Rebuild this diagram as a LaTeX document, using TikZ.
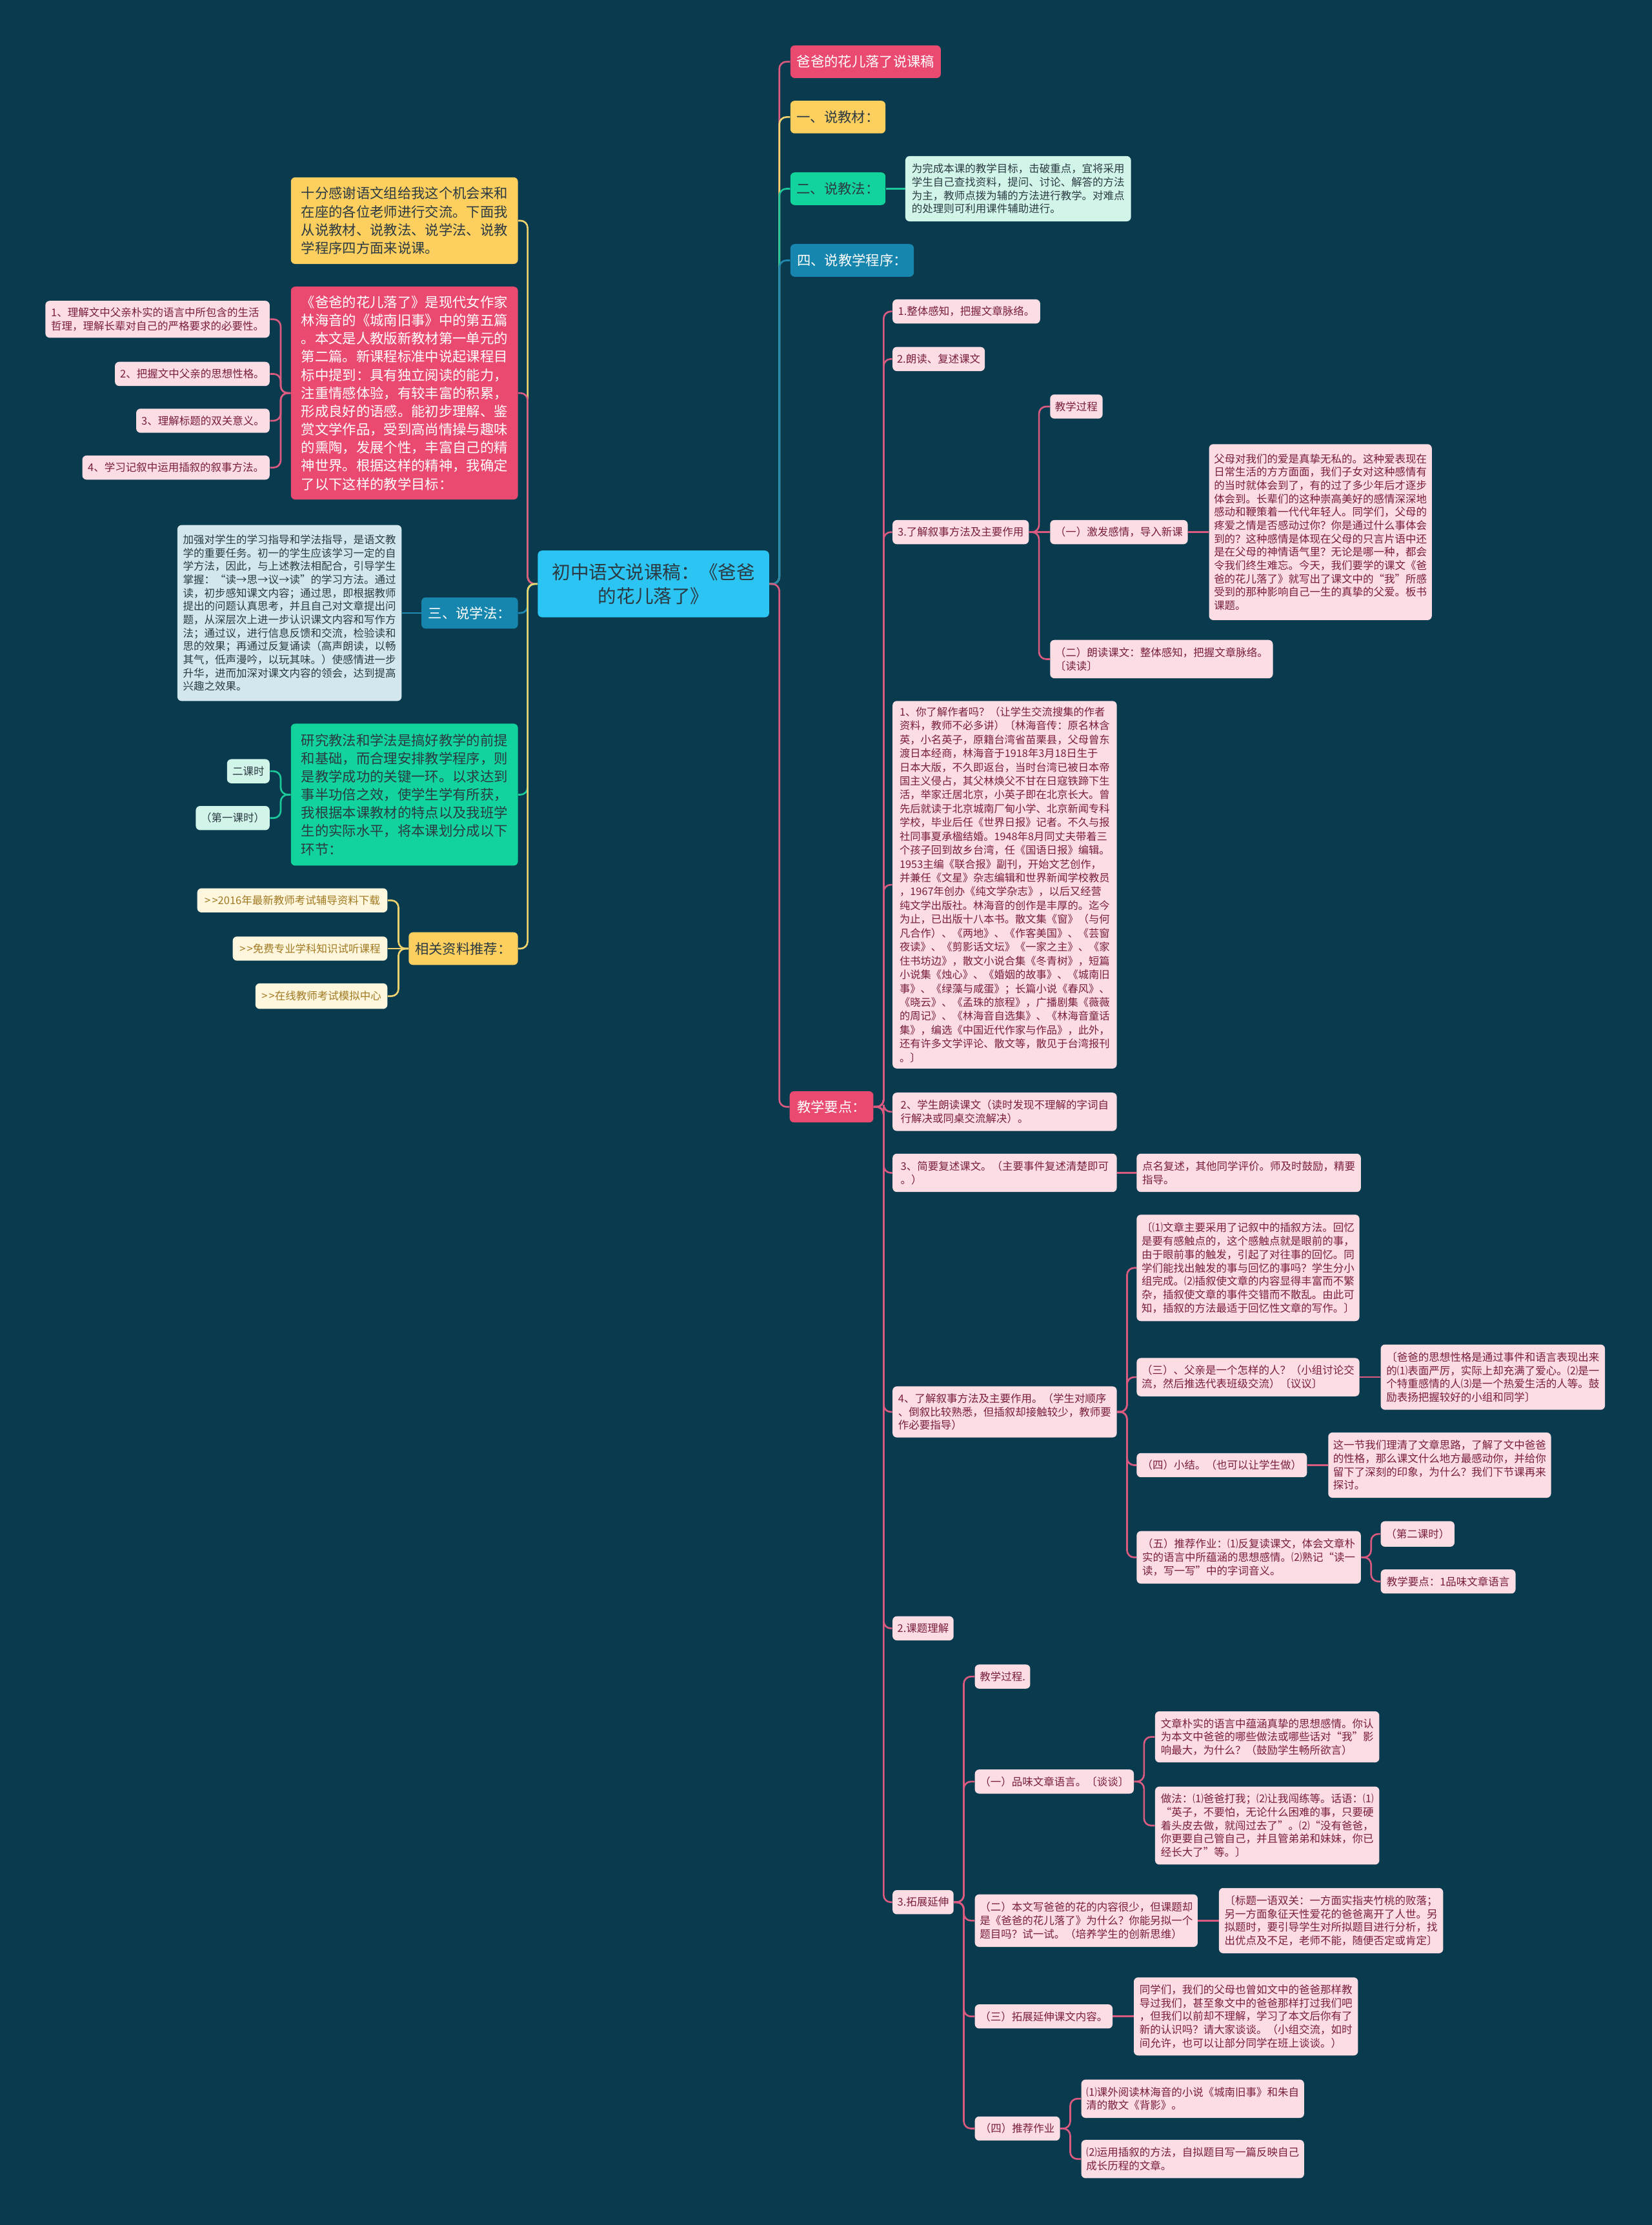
\documentclass[tikz,border=0pt]{standalone}
\usepackage{fontspec}
\setmainfont{Noto Sans CJK SC}
\definecolor{cbg}{HTML}{093A4E}
\definecolor{croot}{HTML}{2CC4F2}
\definecolor{cred}{HTML}{EA4A70}
\definecolor{cyel}{HTML}{FDCF5F}
\definecolor{cgrn}{HTML}{12D39C}
\definecolor{cblu}{HTML}{1786AE}
\definecolor{cpink}{HTML}{FCDDE4}
\definecolor{cmint}{HTML}{D2F5EA}
\definecolor{cice}{HTML}{D3E8EE}
\definecolor{ccream}{HTML}{FFF6DE}
\definecolor{cink}{HTML}{2B3A42}
\definecolor{cmaroon}{HTML}{7A1E3E}
\definecolor{cgold}{HTML}{A07A22}
\definecolor{lpink}{HTML}{DB5A80}
\definecolor{lyel}{HTML}{F2D46E}
\definecolor{lgrn}{HTML}{1CC99B}
\definecolor{lblu}{HTML}{2188AF}
\newcommand{\txtS}{\fontsize{7.5}{9.4}\selectfont}
\newcommand{\txtM}{\fontsize{9.7}{12.8}\selectfont}
\newcommand{\txtL}{\fontsize{13}{17}\selectfont}
\tikzset{
  box/.style={rounded corners=3pt, inner xsep=3pt, inner ysep=2pt, align=left},
  sz/.style 2 args={minimum width=#1, minimum height=#2},
  rootbox/.style={box, align=center, fill=croot, text=cink, font=\txtL},
  redbox/.style={box, fill=cred, text=white, font=\txtM},
  yelbox/.style={box, fill=cyel, text=cink, font=\txtM},
  grnbox/.style={box, fill=cgrn, text=cink, font=\txtM},
  blubox/.style={box, fill=cblu, text=white, font=\txtM},
  pinkleaf/.style={box, fill=cpink, text=cmaroon, font=\txtS},
  mintleaf/.style={box, fill=cmint, text=cink, font=\txtS},
  iceleaf/.style={box, fill=cice, text=cink, font=\txtS},
  creamleaf/.style={box, fill=ccream, text=cgold, font=\txtS},
  link/.style={line width=1.2pt, rounded corners=5pt}
}
\begin{document}
\begin{tikzpicture}[x=1pt,y=-1pt]
\useasboundingbox (0,0) rectangle (1164,1568);
\fill[cbg] (0,0) rectangle (1164,1568);
\node[rootbox, sz={163}{47}] (root) at (460.5,411.5) {初中语文说课稿：《爸爸\\的花儿落了》};
\node[redbox, sz={106}{23}] (r1) at (610,43.5) {爸爸的花儿落了说课稿};
\node[yelbox, sz={67}{23}] (r2) at (590.5,82.5) {一、说教材：};
\node[grnbox, sz={67}{23}] (r3) at (590.5,133) {二、说教法：};
\node[mintleaf, sz={159}{46}] (r3c) at (717.5,133) {为完成本课的教学目标，击破重点，宜将采用\\学生自己查找资料，提问、讨论、解答的方法\\为主，教师点拨为辅的方法进行教学。对难点\\的处理则可利用课件辅助进行。};
\node[blubox, sz={87}{23}] (r4) at (600.5,183.5) {四、说教学程序：};
\node[redbox, sz={59}{22}] (yd) at (586,780) {教学要点：};
\node[pinkleaf, sz={104}{17}] (a1) at (681,219.5) {1.整体感知，把握文章脉络。};
\node[pinkleaf, sz={65}{17}] (a2) at (661.5,253) {2.朗读、复述课文};
\node[pinkleaf, sz={96}{17}] (a3) at (677,375) {3.了解叙事方法及主要作用};
\node[pinkleaf, sz={37}{17}] (a3a) at (758.5,286.5) {教学过程};
\node[pinkleaf, sz={97}{17}] (a3b) at (788.5,375) {（一）激发感情，导入新课};
\node[pinkleaf, sz={157}{124}] (a3bc) at (930.5,375) {父母对我们的爱是真挚无私的。这种爱表现在\\日常生活的方方面面，我们子女对这种感情有\\的当时就体会到了，有的过了多少年后才逐步\\体会到。长辈们的这种崇高美好的感情深深地\\感动和鞭策着一代代年轻人。同学们，父母的\\疼爱之情是否感动过你？你是通过什么事体会\\到的？这种感情是体现在父母的只言片语中还\\是在父母的神情语气里？无论是哪一种，都会\\令我们终生难忘。今天，我们要学的课文《爸\\爸的花儿落了》就写出了课文中的“我”所感\\受到的那种影响自己一生的真挚的父爱。板书\\课题。};
\node[pinkleaf, sz={157}{27}] (a3c) at (818.5,464.5) {（二）朗读课文：整体感知，把握文章脉络。\\〔读读〕};
\node[pinkleaf, sz={158}{259}, font=\fontsize{7.4}{9.75}\selectfont] (a4) at (708,623.5) {1、你了解作者吗？（让学生交流搜集的作者\\资料，教师不必多讲）〔林海音传：原名林含\\英，小名英子，原籍台湾省苗栗县，父母曾东\\渡日本经商，林海音于1918年3月18日生于\\日本大版，不久即返台，当时台湾已被日本帝\\国主义侵占，其父林焕父不甘在日寇铁蹄下生\\活，举家迁居北京，小英子即在北京长大。曾\\先后就读于北京城南厂甸小学、北京新闻专科\\学校，毕业后任《世界日报》记者。不久与报\\社同事夏承楹结婚。1948年8月同丈夫带着三\\个孩子回到故乡台湾，任《国语日报》编辑。\\1953主编《联合报》副刊，开始文艺创作，\\并兼任《文星》杂志编辑和世界新闻学校教员\\，1967年创办《纯文学杂志》，以后又经营\\纯文学出版社。林海音的创作是丰厚的。迄今\\为止，已出版十八本书。散文集《窗》（与何\\凡合作）、《两地》、《作客美国》、《芸窗\\夜读》、《剪影话文坛》《一家之主》、《家\\住书坊边》，散文小说合集《冬青树》，短篇\\小说集《烛心》、《婚姻的故事》、《城南旧\\事》、《绿藻与咸蛋》；长篇小说《春风》、\\《晓云》、《孟珠的旅程》，广播剧集《薇薇\\的周记》、《林海音自选集》、《林海音童话\\集》，编选《中国近代作家与作品》，此外，\\还有许多文学评论、散文等，散见于台湾报刊\\。〕};
\node[pinkleaf, sz={158}{27}] (a5) at (708,783.5) {2、学生朗读课文（读时发现不理解的字词自\\行解决或同桌交流解决）。};
\node[pinkleaf, sz={158}{27}] (a6) at (708,826.5) {3、简要复述课文。（主要事件复述清楚即可\\。）};
\node[pinkleaf, sz={158}{27}] (a6c) at (880,826.5) {点名复述，其他同学评价。师及时鼓励，精要\\指导。};
\node[pinkleaf, sz={158}{36}] (a7) at (708,995) {4、了解叙事方法及主要作用。（学生对顺序\\、倒叙比较熟悉，但插叙却接触较少，教师要\\作必要指导）};
\node[pinkleaf, sz={157}{75}] (b1) at (879.5,893.5) {〔⑴文章主要采用了记叙中的插叙方法。回忆\\是要有感触点的，这个感触点就是眼前的事，\\由于眼前事的触发，引起了对往事的回忆。同\\学们能找出触发的事与回忆的事吗？学生分小\\组完成。⑵插叙使文章的内容显得丰富而不繁\\杂，插叙使文章的事件交错而不散乱。由此可\\知，插叙的方法最适于回忆性文章的写作。〕};
\node[pinkleaf, sz={157}{27}] (b2) at (879.5,970.5) {（三）、父亲是一个怎样的人？（小组讨论交\\流，然后推选代表班级交流）〔议议〕};
\node[pinkleaf, sz={158}{46}] (b2c) at (1052,970.5) {〔爸爸的思想性格是通过事件和语言表现出来\\的⑴表面严厉，实际上却充满了爱心。⑵是一\\个特重感情的人⑶是一个热爱生活的人等。鼓\\励表扬把握较好的小组和同学〕};
\node[pinkleaf, sz={120}{17}] (b3) at (861,1032.5) {（四）小结。（也可以让学生做）};
\node[pinkleaf, sz={157}{46}] (b3c) at (1014.5,1032.5) {这一节我们理清了文章思路，了解了文中爸爸\\的性格，那么课文什么地方最感动你，并给你\\留下了深刻的印象，为什么？我们下节课再来\\探讨。};
\node[pinkleaf, sz={158}{37}] (b4) at (880,1097.5) {（五）推荐作业：⑴反复读课文，体会文章朴\\实的语言中所蕴涵的思想感情。⑵熟记“读一\\读，写一写”中的字词音义。};
\node[pinkleaf, sz={52}{18}] (b4a) at (999,1081) {（第二课时）};
\node[pinkleaf, sz={95}{17}] (b4b) at (1020.5,1114.5) {教学要点：1品味文章语言};
\node[pinkleaf, sz={43}{17}] (a8) at (650.5,1147.5) {2.课题理解};
\node[pinkleaf, sz={43}{17}] (a9) at (650.5,1340.5) {3.拓展延伸};
\node[pinkleaf, sz={39}{17}] (c1) at (706.5,1181.5) {教学过程.};
\node[pinkleaf, sz={112}{17}] (c2) at (743,1255.5) {（一）品味文章语言。〔谈谈〕};
\node[pinkleaf, sz={158}{36}] (c2a) at (893,1224) {文章朴实的语言中蕴涵真挚的思想感情。你认\\为本文中爸爸的哪些做法或哪些话对“我”影\\响最大，为什么？（鼓励学生畅所欲言）};
\node[pinkleaf, sz={158}{55}] (c2b) at (893,1286.5) {做法：⑴爸爸打我；⑵让我闯练等。话语：⑴\\“英子，不要怕，无论什么困难的事，只要硬\\着头皮去做，就闯过去了”。⑵“没有爸爸，\\你更要自己管自己，并且管弟弟和妹妹，你已\\经长大了”等。〕};
\node[pinkleaf, sz={157}{37}] (c3) at (765.5,1353.5) {（二）本文写爸爸的花的内容很少，但课题却\\是《爸爸的花儿落了》为什么？你能另拟一个\\题目吗？试一试。（培养学生的创新思维）};
\node[pinkleaf, sz={158}{46}] (c3c) at (938,1353.5) {〔标题一语双关：一方面实指夹竹桃的败落；\\另一方面象征天性爱花的爸爸离开了人世。另\\拟题时，要引导学生对所拟题目进行分析，找\\出优点及不足，老师不能，随便否定或肯定〕};
\node[pinkleaf, sz={97}{17}] (c4) at (735.5,1421) {（三）拓展延伸课文内容。};
\node[pinkleaf, sz={158}{55}] (c4c) at (878,1421) {同学们，我们的父母也曾如文中的爸爸那样教\\导过我们，甚至象文中的爸爸那样打过我们吧\\，但我们以前却不理解，学习了本文后你有了\\新的认识吗？请大家谈谈。（小组交流，如时\\间允许，也可以让部分同学在班上谈谈。）};
\node[pinkleaf, sz={60}{17}] (c5) at (717,1500) {（四）推荐作业};
\node[pinkleaf, sz={157}{27}] (c5a) at (840.5,1479) {⑴课外阅读林海音的小说《城南旧事》和朱自\\清的散文《背影》。};
\node[pinkleaf, sz={157}{27}] (c5b) at (840.5,1521.5) {⑵运用插叙的方法，自拟题目写一篇反映自己\\成长历程的文章。};
\node[yelbox, sz={160}{61}] (l1) at (285,155.5) {十分感谢语文组给我这个机会来和\\在座的各位老师进行交流。下面我\\从说教材、说教法、说学法、说教\\学程序四方面来说课。};
\node[redbox, sz={160}{150}] (l2) at (285,277) {《爸爸的花儿落了》是现代女作家\\林海音的《城南旧事》中的第五篇\\。本文是人教版新教材第一单元的\\第二篇。新课程标准中说起课程目\\标中提到：具有独立阅读的能力，\\注重情感体验，有较丰富的积累，\\形成良好的语感。能初步理解、鉴\\赏文学作品，受到高尚情操与趣味\\的熏陶，发展个性，丰富自己的精\\神世界。根据这样的精神，我确定\\了以下这样的教学目标：};
\node[pinkleaf, sz={158}{26}] (l2a) at (111,225) {1、理解文中父亲朴实的语言中所包含的生活\\哲理，理解长辈对自己的严格要求的必要性。};
\node[pinkleaf, sz={109}{17}] (l2b) at (135.5,263.5) {2、把握文中父亲的思想性格。};
\node[pinkleaf, sz={94}{17}] (l2c) at (143,296.5) {3、理解标题的双关意义。};
\node[pinkleaf, sz={132}{17}] (l2d) at (124,329.5) {4、学习记叙中运用插叙的叙事方法。};
\node[blubox, sz={68}{22}] (l3) at (331,432) {三、说学法：};
\node[iceleaf, sz={158}{124}] (l3c) at (204,432) {加强对学生的学习指导和学法指导，是语文教\\学的重要任务。初一的学生应该学习一定的自\\学方法，因此，与上述教法相配合，引导学生\\掌握：“读→思→议→读”的学习方法。通过\\读，初步感知课文内容；通过思，即根据教师\\提出的问题认真思考，并且自己对文章提出问\\题，从深层次上进一步认识课文内容和写作方\\法；通过议，进行信息反馈和交流，检验读和\\思的效果；再通过反复诵读（高声朗读，以畅\\其气，低声漫吟，以玩其味。）使感情进一步\\升华，进而加深对课文内容的领会，达到提高\\兴趣之效果。};
\node[grnbox, sz={160}{100}] (l4) at (285,560) {研究教法和学法是搞好教学的前提\\和基础，而合理安排教学程序，则\\是教学成功的关键一环。以求达到\\事半功倍之效，使学生学有所获，\\我根据本课教材的特点以及我班学\\生的实际水平，将本课划分成以下\\环节：};
\node[mintleaf, sz={30}{17}] (l4a) at (175,543.5) {二课时};
\node[mintleaf, sz={52}{17}] (l4b) at (164,576.5) {（第一课时）};
\node[yelbox, sz={77}{23}] (l5) at (326.5,668.5) {相关资料推荐：};
\node[creamleaf, sz={134}{17}] (l5a) at (206,634.5) {>\hspace{1pt}>2016年最新教师考试辅导资料下载};
\node[creamleaf, sz={109}{17}] (l5b) at (218.5,668.5) {>\hspace{1pt}>免费专业学科知识试听课程};
\node[creamleaf, sz={93}{18}] (l5c) at (226.5,702) {>\hspace{1pt}>在线教师考试模拟中心};
\draw[link,lpink] (root.east) -- ++(7,0) |- (r1.west);
\draw[link,lyel] (root.east) -- ++(7,0) |- (r2.west);
\draw[link,lgrn] (root.east) -- ++(7,0) |- (r3.west);
\draw[link,lblu] (root.east) -- ++(7,0) |- (r4.west);
\draw[link,lpink] (root.east) -- ++(7,0) |- (yd.west);
\draw[link,lgrn] (r3.east) -- (r3c.west);
\foreach \n in {a1,a2,a3,a4,a5,a6,a7,a8,a9}
  \draw[link,lpink] (yd.east) -- ++(7,0) |- (\n.west);
\foreach \n in {a3a,a3c}
  \draw[link,lpink] (a3.east) -- ++(7,0) |- (\n.west);
\draw[link,lpink] (a3.east) -- (a3b.west);
\draw[link,lpink] (a3b.east) -- (a3bc.west);
\draw[link,lpink] (a6.east) -- (a6c.west);
\foreach \n in {b1,b2,b3,b4}
  \draw[link,lpink] (a7.east) -- ++(7,0) |- (\n.west);
\draw[link,lpink] (b2.east) -- (b2c.west);
\draw[link,lpink] (b3.east) -- (b3c.west);
\foreach \n in {b4a,b4b}
  \draw[link,lpink] (b4.east) -- ++(7,0) |- (\n.west);
\foreach \n in {c1,c2,c3,c4,c5}
  \draw[link,lpink] (a9.east) -- ++(7,0) |- (\n.west);
\foreach \n in {c2a,c2b}
  \draw[link,lpink] (c2.east) -- ++(7,0) |- (\n.west);
\draw[link,lpink] (c3.east) -- (c3c.west);
\draw[link,lpink] (c4.east) -- (c4c.west);
\foreach \n in {c5a,c5b}
  \draw[link,lpink] (c5.east) -- ++(7,0) |- (\n.west);
\draw[link,lyel] (root.west) -- ++(-7,0) |- (l1.east);
\draw[link,lpink] (root.west) -- ++(-7,0) |- (l2.east);
\draw[link,lblu] (root.west) -- ++(-7,0) |- (l3.east);
\draw[link,lgrn] (root.west) -- ++(-7,0) |- (l4.east);
\draw[link,lyel] (root.west) -- ++(-7,0) |- (l5.east);
\foreach \n in {l2a,l2b,l2c,l2d}
  \draw[link,lpink] (l2.west) -- ++(-7,0) |- (\n.east);
\draw[link,lblu] (l3.west) -- (l3c.east);
\foreach \n in {l4a,l4b}
  \draw[link,lgrn] (l4.west) -- ++(-7,0) |- (\n.east);
\foreach \n in {l5a,l5c}
  \draw[link,lyel] (l5.west) -- ++(-7,0) |- (\n.east);
\draw[link,lyel] (l5.west) -- (l5b.east);
\end{tikzpicture}
\end{document}
